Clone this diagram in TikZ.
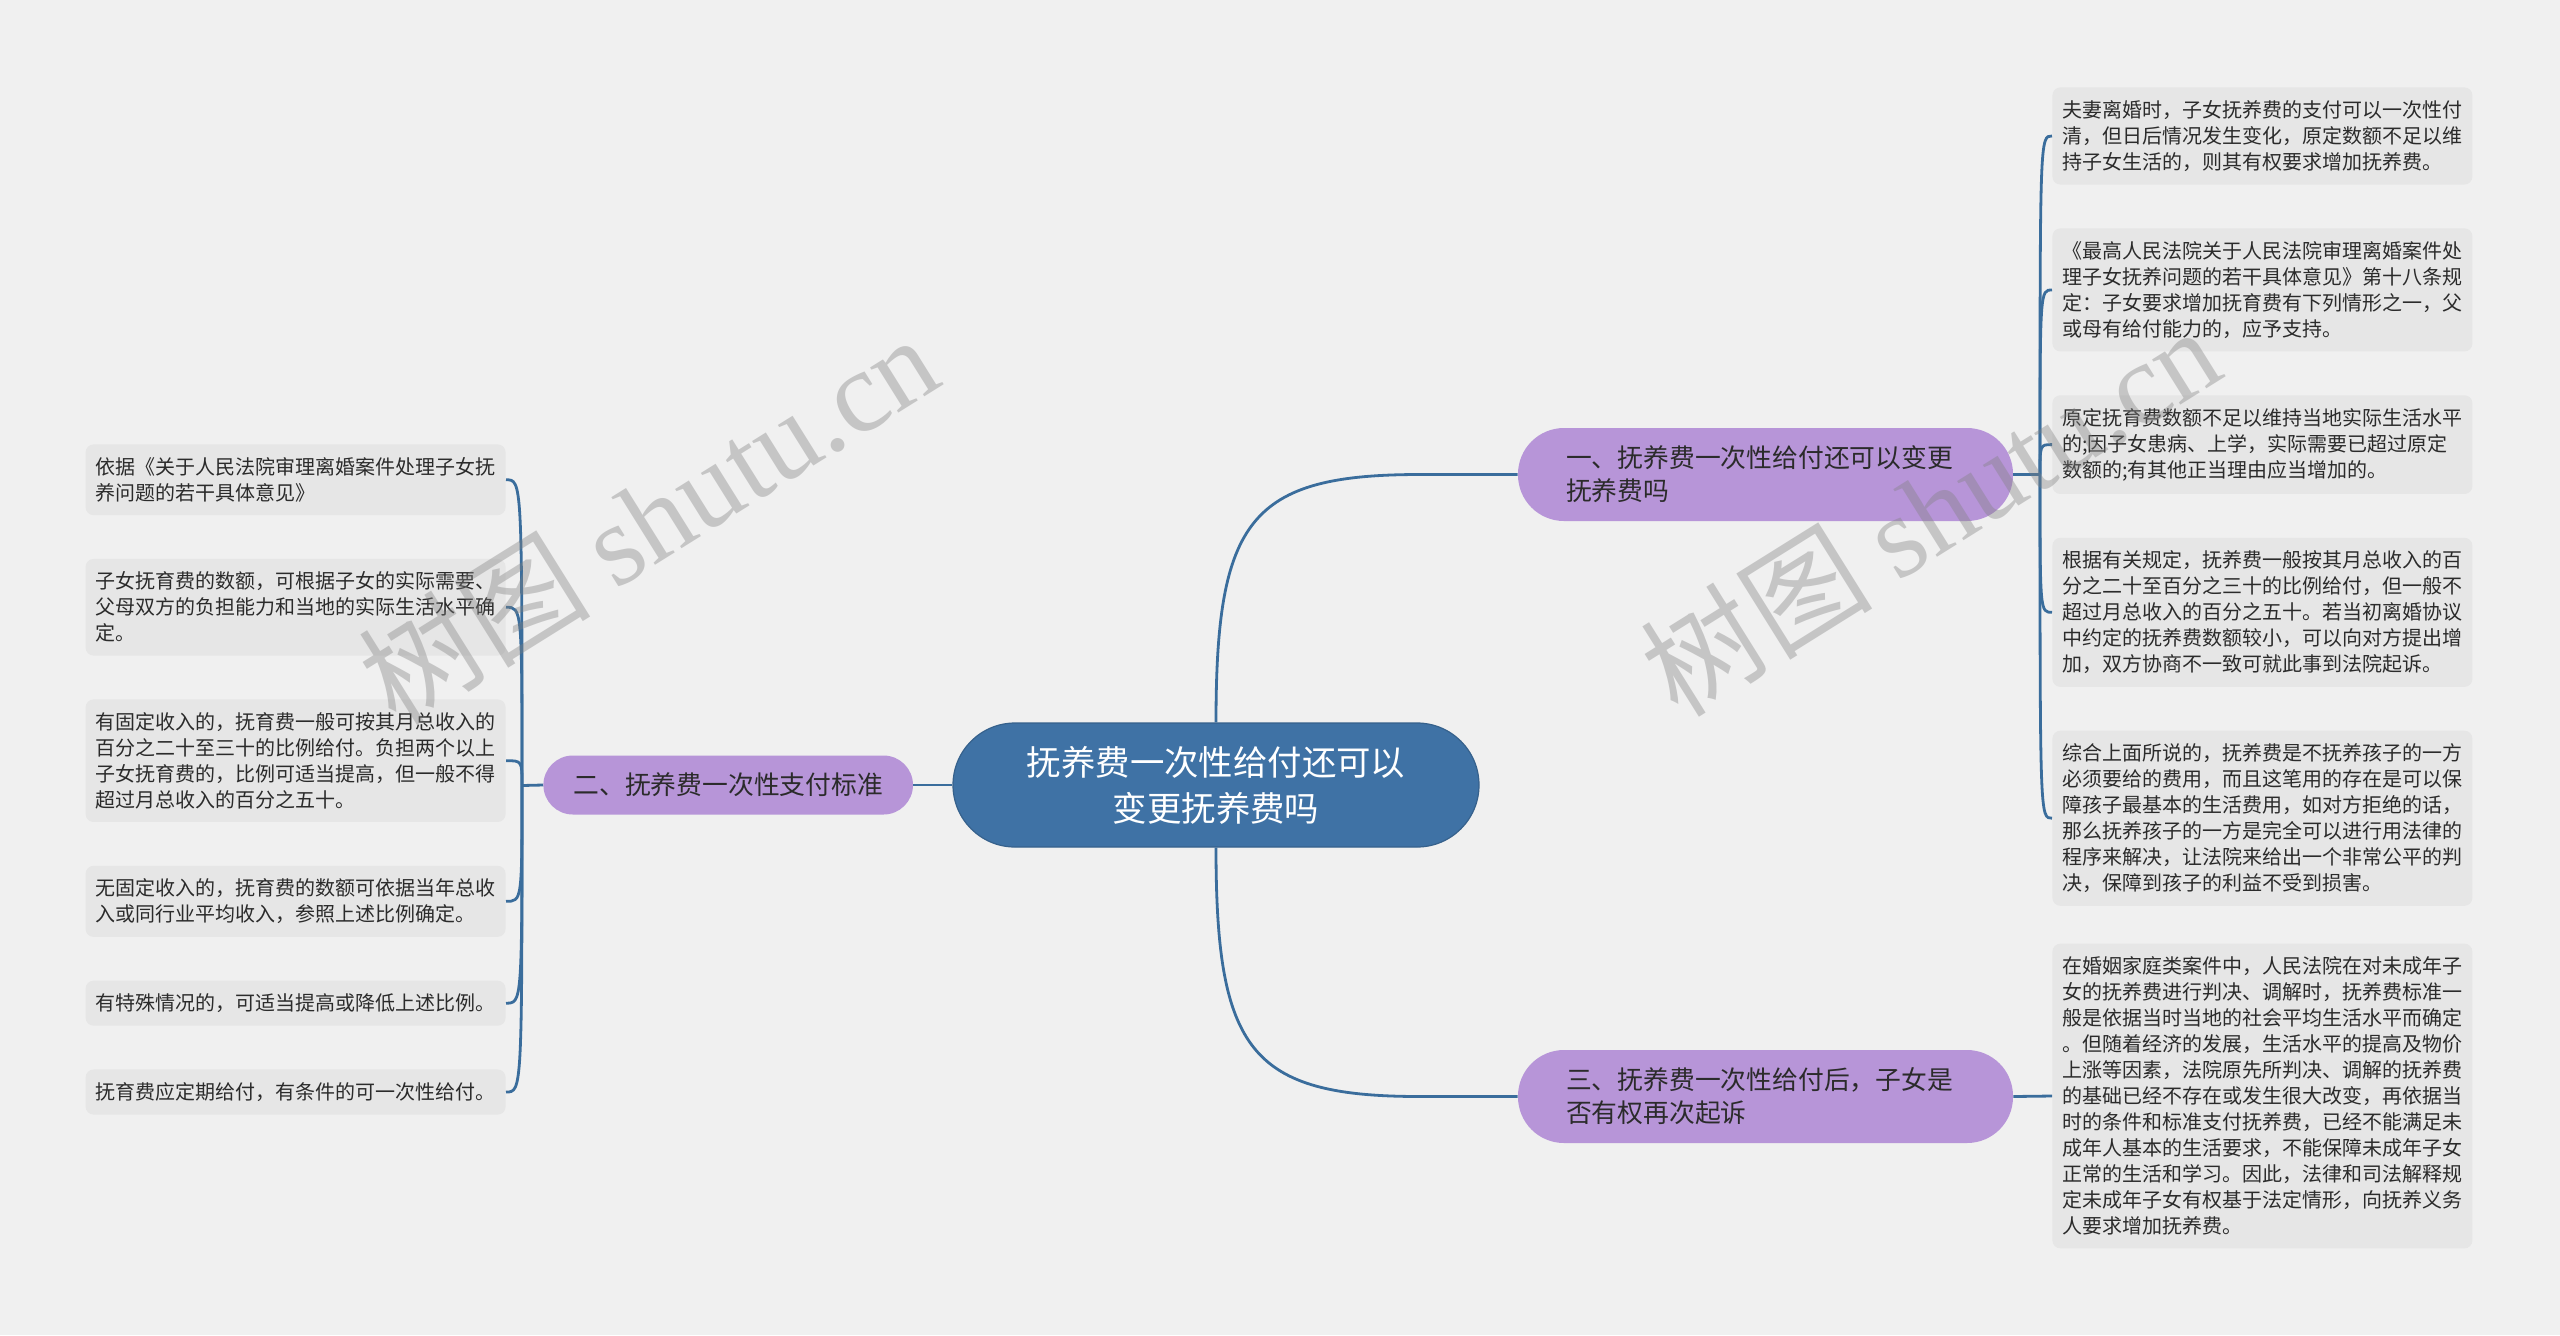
\documentclass[tikz,border=0pt]{standalone}
\usepackage{fontspec}
\setmainfont{Noto Sans CJK SC}
\newfontfamily\wmlatin{Liberation Serif}
\usepackage{xcolor}
\usepackage{tikz}
\usetikzlibrary{positioning}
\definecolor{bgfill}{HTML}{F0F0F0}
\definecolor{leaffill}{HTML}{E6E6E6}
\definecolor{linkblue}{HTML}{3A6D9C}
\definecolor{rootblue}{HTML}{3F72A5}
\definecolor{lavender}{HTML}{B795D8}
\definecolor{inktext}{HTML}{2B2B2B}

\begin{document}
\begin{tikzpicture}[x=0.5pt, y=-0.5pt,
    % Setting up styles here keeps the drawing code clean
    root/.style = {rectangle, rounded corners=31pt, fill=rootblue, draw=rootblue!85!black, line width=0.6pt, text=white, align=center, minimum width=263pt, minimum height=62pt, font=\fontsize{17.2}{23}\selectfont},
    topic/.style = {rectangle, rounded corners=23pt, fill=lavender, text=inktext, align=left, text width=199.5pt, inner xsep=24pt, minimum height=46.5pt, font=\fontsize{12.9}{16.5}\selectfont},
    subtopic/.style = {rectangle, rounded corners=14.75pt, fill=lavender, text=inktext, inner xsep=15pt, minimum width=184.5pt, minimum height=29.5pt, font=\fontsize{12.9}{16.5}\selectfont},
    leaf/.style = {rectangle, rounded corners=4pt, fill=leaffill, text=inktext, align=left, text width=200pt, inner xsep=5pt, inner ysep=6.5pt, font=\fontsize{10}{13}\selectfont},
    link/.style = {draw=linkblue, line width=1.4pt},
    wmark/.style = {text=black!50, text opacity=0.38, rotate=32, font=\fontsize{58}{58}\selectfont}
]

    % 1. Canvas
    \fill[bgfill] (0,0) rectangle (2560,1335);
    \useasboundingbox (0,0) rectangle (2560,1335);

    % 2. Root and the three topics
    \node (ctr) [root] at (1216,785) {抚养费一次性给付还可以\\变更抚养费吗};
    \node (b1)  [topic] at (1765.5,474.5) {一、抚养费一次性给付还可以变更\\抚养费吗};
    \node (b2)  [subtopic, left=19.5pt of ctr] {二、抚养费一次性支付标准};
    \node (b3)  [topic] at (1765.5,1096.5) {三、抚养费一次性给付后，子女是\\否有权再次起诉};

    % 3. Right leaves, stacked with equal gaps
    \node (rl1) [leaf, anchor=north west] at (2052,87) {夫妻离婚时，子女抚养费的支付可以一次性付\\清，但日后情况发生变化，原定数额不足以维\\持子女生活的，则其有权要求增加抚养费。};
    \node (rl2) [leaf, below=21.5pt of rl1] {《最高人民法院关于人民法院审理离婚案件处\\理子女抚养问题的若干具体意见》第十八条规\\定：子女要求增加抚育费有下列情形之一，父\\或母有给付能力的，应予支持。};
    \node (rl3) [leaf, below=21.5pt of rl2] {原定抚育费数额不足以维持当地实际生活水平\\的;因子女患病、上学，实际需要已超过原定\\数额的;有其他正当理由应当增加的。};
    \node (rl4) [leaf, below=21.5pt of rl3] {根据有关规定，抚养费一般按其月总收入的百\\分之二十至百分之三十的比例给付，但一般不\\超过月总收入的百分之五十。若当初离婚协议\\中约定的抚养费数额较小，可以向对方提出增\\加，双方协商不一致可就此事到法院起诉。};
    \node (rl5) [leaf, below=21.5pt of rl4] {综合上面所说的，抚养费是不抚养孩子的一方\\必须要给的费用，而且这笔用的存在是可以保\\障孩子最基本的生活费用，如对方拒绝的话，\\那么抚养孩子的一方是完全可以进行用法律的\\程序来解决，让法院来给出一个非常公平的判\\决，保障到孩子的利益不受到损害。};
    \node (rl6) [leaf, anchor=west] at (2052,1096) {在婚姻家庭类案件中，人民法院在对未成年子\\女的抚养费进行判决、调解时，抚养费标准一\\般是依据当时当地的社会平均生活水平而确定\\。但随着经济的发展，生活水平的提高及物价\\上涨等因素，法院原先所判决、调解的抚养费\\的基础已经不存在或发生很大改变，再依据当\\时的条件和标准支付抚养费，已经不能满足未\\成年人基本的生活要求，不能保障未成年子女\\正常的生活和学习。因此，法律和司法解释规\\定未成年子女有权基于法定情形，向抚养义务\\人要求增加抚养费。};

    % 4. Left leaves
    \node (ll1) [leaf, anchor=north east] at (506,444) {依据《关于人民法院审理离婚案件处理子女抚\\养问题的若干具体意见》};
    \node (ll2) [leaf, below=21.5pt of ll1] {子女抚育费的数额，可根据子女的实际需要、\\父母双方的负担能力和当地的实际生活水平确\\定。};
    \node (ll3) [leaf, below=21.5pt of ll2] {有固定收入的，抚育费一般可按其月总收入的\\百分之二十至三十的比例给付。负担两个以上\\子女抚育费的，比例可适当提高，但一般不得\\超过月总收入的百分之五十。};
    \node (ll4) [leaf, below=21.5pt of ll3] {无固定收入的，抚育费的数额可依据当年总收\\入或同行业平均收入，参照上述比例确定。};
    \node (ll5) [leaf, below=21.5pt of ll4] {有特殊情况的，可适当提高或降低上述比例。};
    \node (ll6) [leaf, below=21.5pt of ll5] {抚育费应定期给付，有条件的可一次性给付。};

    % 5. Root to topics
    \coordinate (k1) at (1420,474.5);
    \coordinate (k3) at (1420,1096.5);
    \draw[link] (ctr.north) .. controls +(0,-203) and +(-170,0) .. (k1) -- (b1.west);
    \draw[link] (ctr.south) .. controls +(0,203) and +(-170,0) .. (k3) -- (b3.west);
    \draw[link] (ctr.west) -- (b2.east);

    % 6. Topics to leaves
    \coordinate (j1) at (2040,474.5);
    \coordinate (j2) at (522,785.5);
    \draw[link] (b1.east) -- (j1);
    \foreach \n in {rl1,rl2,rl3,rl4,rl5}
        \draw[link] (j1) .. controls (j1 |- \n.west) .. (\n.west);
    \draw[link] (b2.west) -- (j2);
    \foreach \n in {ll1,ll2,ll3,ll4,ll5,ll6}
        \draw[link] (j2) .. controls (j2 |- \n.east) .. (\n.east);
    \draw[link] (b3.east) -- (rl6.west);

    % 7. Watermarks
    \node (wm1) [wmark] at (648,518) {树图 {\wmlatin shutu.cn}};
    \node (wm2) [wmark] at (1930,510) {树图 {\wmlatin shutu.cn}};

\end{tikzpicture}
\end{document}
